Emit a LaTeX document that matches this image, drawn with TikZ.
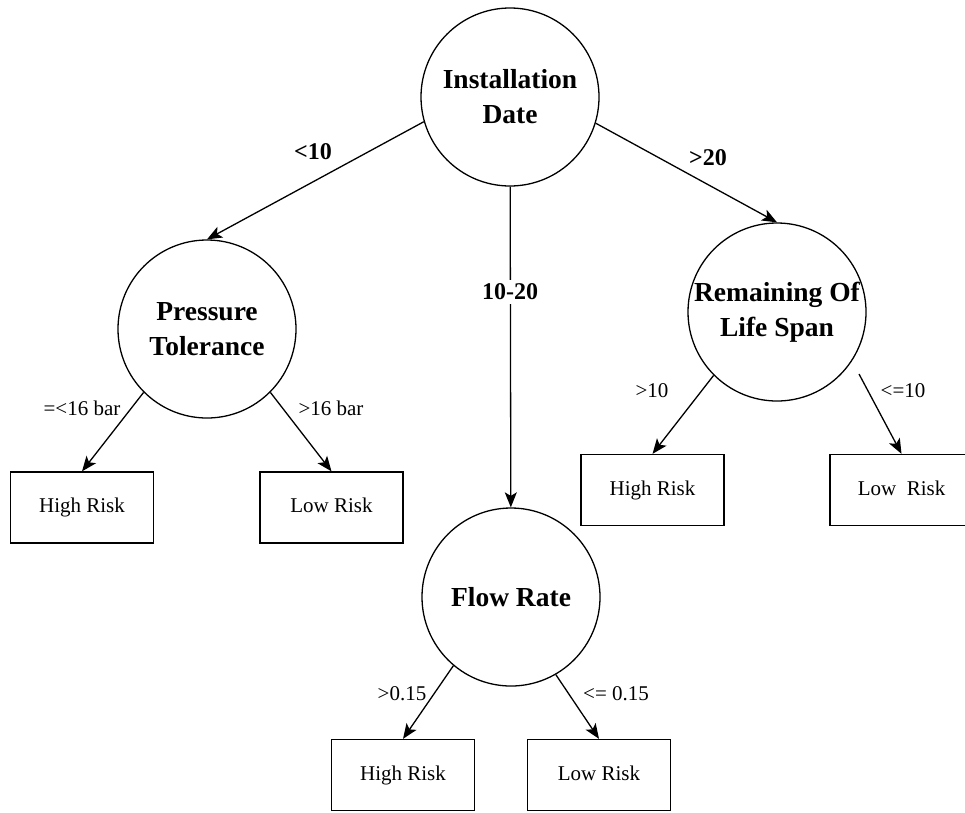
\documentclass[tikz,border=0pt]{standalone}
\usepackage{fontspec}
\setmainfont{Liberation Serif}
\usetikzlibrary{arrows.meta}
\begin{document}
\begin{tikzpicture}[x=1pt,y=-1pt,
  decision/.style={circle,draw,line width=1.3pt,minimum size=178pt,inner sep=0pt,
    align=center,font=\fontsize{27.5}{35}\selectfont\bfseries},
  leaf/.style={rectangle,draw,line width=1.3pt,minimum width=143pt,minimum height=71pt,
    inner sep=0pt,text height=14pt,text depth=4pt,font=\fontsize{21}{25}\selectfont},
  branch/.style={line width=1.3pt,-{Stealth[length=15pt,width=12pt,inset=3.5pt]}},
  cond/.style={font=\fontsize{21}{25}\selectfont,inner sep=1pt},
  maincond/.style={font=\fontsize{24}{28}\selectfont\bfseries,fill=white,inner sep=4pt}]
\useasboundingbox (0,0) rectangle (965,812);
\clip (0,0) rectangle (965,812);

% decision nodes
\node[decision] (inst) at (510,97)  {Installation\\Date};
\node[decision] (pres) at (207,329) {Pressure\\Tolerance};
\node[decision] (rem)  at (777,312) {Remaining Of\\Life Span};
\node[decision] (flow) at (511,597) {Flow Rate};

% outcome boxes
\node[leaf] (hr1) at (82,507.5)  {High Risk};
\node[leaf] (lr1) at (331.5,507.5) {Low Risk};
\node[leaf] (hr2) at (652.5,490) {High Risk};
\node[leaf] (lr2) at (901.5,490) {Low\ \ Risk};
\node[leaf] (hr3) at (403,775)   {High Risk};
\node[leaf] (lr3) at (599,775)   {Low Risk};

% branches from the root
\draw[branch] (inst.196) -- (pres.north);
\draw[branch] (inst) -- (flow);
\draw[branch] (inst.-17) -- (rem.north);

% branches to the outcomes
\draw[branch] (pres.225) -- (hr1.north);
\draw[branch] (pres.315) -- (lr1.north);
\draw[branch] (rem.225) -- (hr2.north);
\coordinate (remtail) at (859,374);
\draw[branch] (remtail) -- (lr2.north);
\draw[branch] (flow.230) -- (hr3.north);
\draw[branch] (flow.300) -- (lr3.north);

% branch conditions
\node[maincond] (c1) at (313,152) {<10};
\node[maincond] (c2) at (510,292) {10-20};
\node[maincond] (c3) at (708,158) {>20};
\node[cond] (c4) at (82,408)  {=<16 bar};
\node[cond] (c5) at (331,408) {>16 bar};
\node[cond] (c6) at (652,391) {>10};
\node[cond] (c7) at (903,391) {<=10};
\node[cond] (c8) at (402,694) {>0.15};
\node[cond] (c9) at (616,694) {<= 0.15};
\end{tikzpicture}
\end{document}
